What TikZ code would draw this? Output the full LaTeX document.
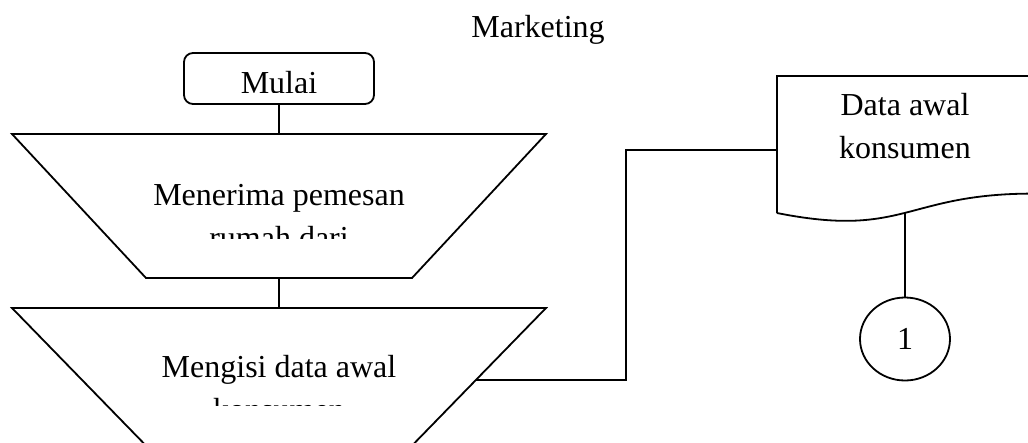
\documentclass[tikz,border=0pt]{standalone}
\usepackage{fontspec}
\setmainfont{Liberation Serif}
\usetikzlibrary{shapes.geometric}
\begin{document}
\begin{tikzpicture}[x=1pt,y=-1pt,
  flow/.style={draw=black, line width=1.8pt, line join=miter},
  link/.style={draw=black, line width=1.8pt},
  % multi-line nodes sit on the baseline of their last line
  txt/.style={inner sep=0pt, anchor=base, align=center,
    font=\fontsize{32}{43}\selectfont},
  ]
\useasboundingbox (0,0) rectangle (1028,442);
\fill[white] (0,0) rectangle (1028,442);
\clip (0,0) rectangle (1028,442);

% heading
\node[txt] (title) at (538,37) {Marketing};

% start terminator
\node[flow, rounded corners=9pt, minimum width=190pt, minimum height=51pt,
  inner sep=0pt] (mulai) at (279,78.5) {};
\begin{scope}
  \clip (186,54) rectangle (372,92.5);
  \node[txt] (mulaitext) at (279,93.5) {Mulai};
\end{scope}

% manual operation 1
\draw[flow] (12,134) -- (546,134) -- (412,278) -- (146,278) -- cycle;
\coordinate (optop) at (279,134);
\coordinate (opbot) at (279,278);
\begin{scope}
  \clip (30,136) rectangle (528,238);
  \node[txt] (optext) at (279,248) {Menerima pemesan\\rumah dari};
\end{scope}

% manual operation 2 (runs past the lower edge)
\draw[flow] (160,460) -- (12,308) -- (546,308) -- (398,460);
\coordinate (fillertop) at (279,308);
\coordinate (fillerout) at (476,380);
\begin{scope}
  \clip (30,310) rectangle (528,405);
  \node[txt] (fillertext) at (279,420) {Mengisi data awal\\konsumen};
\end{scope}

% document
\draw[flow] (777,213) -- (777,76) -- (1033,76) -- (1033,193.6)
  .. controls (905,193.6) and (905,238.5) .. (777,213);
\coordinate (docin) at (777,150);
\coordinate (docout) at (905,213);
\node[txt] (doctext) at (905,158) {Data awal\\konsumen};

% off-page connector
\node[link, ellipse, minimum width=90pt, minimum height=83pt, inner sep=0pt,
  font=\fontsize{32}{43}\selectfont] (conn) at (905,339) {1};

% connectors
\draw[link] (mulai.south) -- (optop);
\draw[link] (opbot) -- (fillertop);
\draw[link] (fillerout) -- ++(150,0) |- (docin);
\draw[link] (docout) -- (conn.north);
\end{tikzpicture}
\end{document}
